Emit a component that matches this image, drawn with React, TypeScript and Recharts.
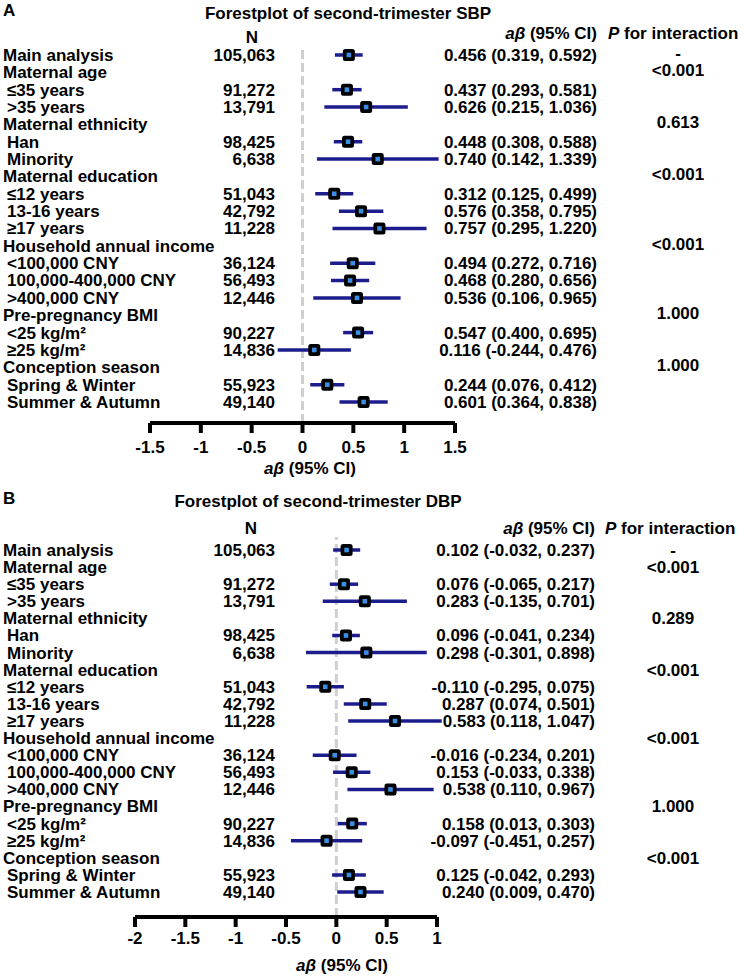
import React from 'react';
import { ScatterChart, Scatter, XAxis, YAxis, ErrorBar, ReferenceLine, Label } from 'recharts';

const FONT = "'Liberation Sans', Arial, Helvetica, sans-serif";
const NAVY = '#1c1c8c';
const DOT_BLUE = '#3a8ee6';

// rows shared by both panels (group headers have no N)
const rowLabels = [
  'Main analysis', 'Maternal age', '≤35 years', '>35 years',
  'Maternal ethnicity', 'Han', 'Minority',
  'Maternal education', '≤12 years', '13-16 years', '≥17 years',
  'Household annual income', '<100,000 CNY', '100,000-400,000 CNY', '>400,000 CNY',
  'Pre-pregnancy BMI', '<25 kg/m²', '≥25 kg/m²',
  'Conception season', 'Spring & Winter', 'Summer & Autumn',
];
const nCounts = [
  '105,063', '', '91,272', '13,791',
  '', '98,425', '6,638',
  '', '51,043', '42,792', '11,228',
  '', '36,124', '56,493', '12,446',
  '', '90,227', '14,836',
  '', '55,923', '49,140',
];
const groupRows = [1, 4, 7, 11, 15, 18];

// panel A: second-trimester SBP
const sbpEst = [0.456, null, 0.437, 0.626, null, 0.448, 0.740, null, 0.312, 0.576, 0.757, null, 0.494, 0.468, 0.536, null, 0.547, 0.116, null, 0.244, 0.601];
const sbpLow = [0.319, null, 0.293, 0.215, null, 0.308, 0.142, null, 0.125, 0.358, 0.295, null, 0.272, 0.280, 0.106, null, 0.400, -0.244, null, 0.076, 0.364];
const sbpHigh = [0.592, null, 0.581, 1.036, null, 0.588, 1.339, null, 0.499, 0.795, 1.220, null, 0.716, 0.656, 0.965, null, 0.695, 0.476, null, 0.412, 0.838];
const sbpP = ['-', '<0.001', '', '', '0.613', '', '', '<0.001', '', '', '', '<0.001', '', '', '', '1.000', '', '', '1.000', '', ''];
const sbpTicks = [-1.5, -1, -0.5, 0, 0.5, 1, 1.5];

// panel B: second-trimester DBP
const dbpEst = [0.102, null, 0.076, 0.283, null, 0.096, 0.298, null, -0.110, 0.287, 0.583, null, -0.016, 0.153, 0.538, null, 0.158, -0.097, null, 0.125, 0.240];
const dbpLow = [-0.032, null, -0.065, -0.135, null, -0.041, -0.301, null, -0.295, 0.074, 0.118, null, -0.234, -0.033, 0.110, null, 0.013, -0.451, null, -0.042, 0.009];
const dbpHigh = [0.237, null, 0.217, 0.701, null, 0.234, 0.898, null, 0.075, 0.501, 1.047, null, 0.201, 0.338, 0.967, null, 0.303, 0.257, null, 0.293, 0.470];
const dbpP = ['-', '<0.001', '', '', '0.289', '', '', '<0.001', '', '', '', '<0.001', '', '', '', '1.000', '', '', '<0.001', '', ''];
const dbpTicks = [-2, -1.5, -1, -0.5, 0, 0.5, 1];

const rowIdx = rowLabels.map((_, i) => i);

const buildData = (est, low, high) =>
  est
    .map((e, i) => (e === null ? null : { row: i, est: e, err: [e - low[i], high[i] - e] }))
    .filter(Boolean);

const ciText = (est, low, high) =>
  est.map((e, i) => (e === null ? '' : `${e.toFixed(3)} (${low[i].toFixed(3)}, ${high[i].toFixed(3)})`));

const BoxMarker = (props) => {
  const { cx, cy } = props;
  if (cx == null || cy == null) return null;
  return (
    <g>
      <rect x={cx - 6} y={cy - 6} width={12} height={12} rx={2.5} fill="#000" />
      <rect x={cx - 2.3} y={cy - 2.3} width={4.6} height={4.6} fill={DOT_BLUE} />
    </g>
  );
};

const makeRowTick = (ci, pvals, nRight, ciRight, pCenter, pShift) => (props) => {
  const { y, payload } = props;
  const i = payload.value;
  const isGroup = i === 0 || groupRows.includes(i);
  const txt = { fontFamily: FONT, fontWeight: 'bold', fontSize: 17, fill: '#000' };
  return (
    <g>
      <text x={isGroup ? 3 : 7} y={y} dy="0.35em" {...txt}>{rowLabels[i]}</text>
      {nCounts[i] && <text x={nRight} y={y} dy="0.35em" textAnchor="end" {...txt}>{nCounts[i]}</text>}
      {ci[i] && <text x={ciRight} y={y} dy="0.35em" textAnchor="end" {...txt}>{ci[i]}</text>}
      {pvals[i] && <text x={pCenter} y={y + pShift} dy="0.35em" textAnchor="middle" {...txt}>{pvals[i]}</text>}
    </g>
  );
};

const AxisTitle = ({ dx, dy }) => (props) => {
  const vb = props.viewBox || {};
  return (
    <text x={vb.x + dx} y={vb.y + dy} dy="0.35em" textAnchor="middle" fontFamily={FONT} fontWeight="bold" fontSize={17} fill="#000">
      <tspan fontStyle="italic">aβ</tspan> (95% CI)
    </text>
  );
};

const ForestPanel = ({ est, low, high, pvals, ticks, domainY, cfg }) => {
  const data = buildData(est, low, high);
  const ci = ciText(est, low, high);
  return (
    <ScatterChart width={744} height={cfg.height} margin={cfg.margin}>
      <XAxis
        type="number"
        dataKey="est"
        domain={[ticks[0], ticks[ticks.length - 1]]}
        ticks={ticks}
        allowDataOverflow
        height={cfg.xHeight}
        tickSize={10}
        tickMargin={cfg.tickMargin}
        axisLine={{ stroke: '#000', strokeWidth: 4 }}
        tickLine={{ stroke: '#000', strokeWidth: 4 }}
        tick={{ fontFamily: FONT, fontWeight: 'bold', fontSize: 17, fill: '#000' }}
      >
        <Label content={AxisTitle({ dx: cfg.titleDx, dy: cfg.titleDy })} />
      </XAxis>
      <YAxis
        type="number"
        dataKey="row"
        reversed
        domain={domainY}
        ticks={rowIdx}
        interval={0}
        width={cfg.yWidth}
        axisLine={false}
        tickLine={false}
        tick={makeRowTick(ci, pvals, cfg.nRight, cfg.ciRight, cfg.pCenter, cfg.pShift)}
      />
      <ReferenceLine x={0} stroke="#cfcfcf" strokeWidth={3} strokeDasharray="9 4" />
      <Scatter data={data} shape={<BoxMarker />} isAnimationActive={false}>
        <ErrorBar dataKey="err" direction="x" width={0} stroke={NAVY} strokeWidth={3.5} />
      </Scatter>
    </ScatterChart>
  );
};

const txtStyle = { fontFamily: FONT, fontWeight: 'bold', fontSize: 17, fill: '#000' };

const Headers = ({ top, letter, title, titleX, titleY, nX, nY, hY, ciRight, pLeft }) => (
  <g transform={`translate(0, ${top})`}>
    <text x={3} y={titleY - 3} dy="0.35em" {...txtStyle}>{letter}</text>
    <text x={titleX} y={titleY} dy="0.35em" textAnchor="middle" {...txtStyle}>{title}</text>
    <text x={nX} y={nY} dy="0.35em" textAnchor="middle" {...txtStyle}>N</text>
    <text x={ciRight} y={hY} dy="0.35em" textAnchor="end" {...txtStyle}>
      <tspan fontStyle="italic">aβ</tspan> (95% CI)
    </text>
    <text x={pLeft} y={hY} dy="0.35em" {...txtStyle}>
      <tspan fontStyle="italic">P</tspan> for interaction
    </text>
  </g>
);

export default function App() {
  return (
    <div style={{ position: 'absolute', left: 0, top: 0, width: 744, height: 976, background: '#fff' }}>
      <div style={{ position: 'absolute', left: 0, top: 0 }}>
        <ForestPanel
          est={sbpEst}
          low={sbpLow}
          high={sbpHigh}
          pvals={sbpP}
          ticks={sbpTicks}
          domainY={[-0.46, 21.21]}
          cfg={{
            height: 490, margin: { top: 47, right: 289, bottom: 7, left: 0 }, xHeight: 60, yWidth: 150,
            tickMargin: 8, titleDx: 160, titleDy: 45, nRight: 275, ciRight: 597, pCenter: 678, pShift: -2,
          }}
        />
      </div>
      <div style={{ position: 'absolute', left: 0, top: 490 }}>
        <ForestPanel
          est={dbpEst}
          low={dbpLow}
          high={dbpHigh}
          pvals={dbpP}
          ticks={dbpTicks}
          domainY={[-0.76, 21.46]}
          cfg={{
            height: 486, margin: { top: 47, right: 307, bottom: 4, left: 0 }, xHeight: 55, yWidth: 135,
            tickMargin: 5, titleDx: 207, titleDy: 48, nRight: 275, ciRight: 595, pCenter: 673, pShift: 0,
          }}
        />
      </div>
      <svg width={744} height={976} style={{ position: 'absolute', left: 0, top: 0, pointerEvents: 'none' }}>
        <Headers top={0} letter="A" title="Forestplot of second-trimester SBP" titleX={348} titleY={13}
          nX={252} nY={37} hY={33} ciRight={597} pLeft={608} />
        <Headers top={490} letter="B" title="Forestplot of second-trimester DBP" titleX={318} titleY={11}
          nX={251} nY={38} hY={38} ciRight={595} pLeft={605} />
      </svg>
    </div>
  );
}
